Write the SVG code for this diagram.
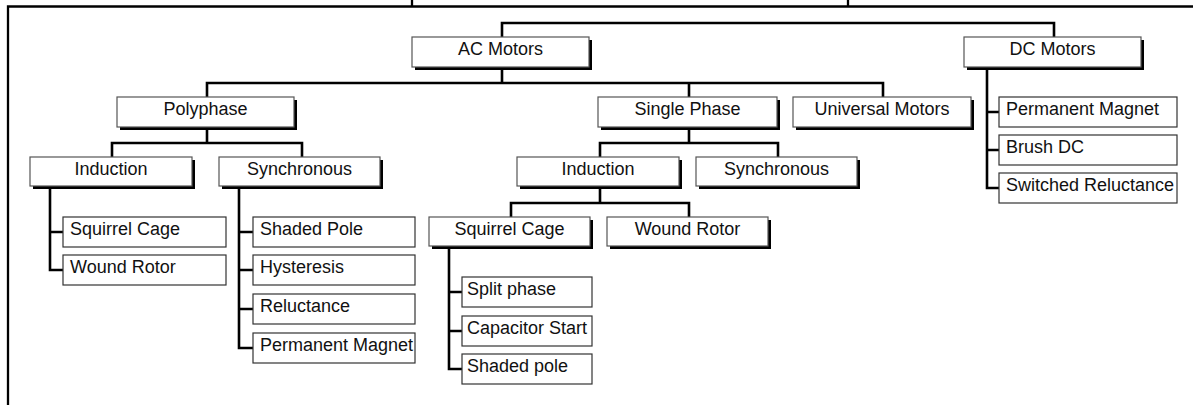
<svg xmlns="http://www.w3.org/2000/svg" width="1193" height="405" viewBox="0 0 1193 405">
<style>
  .frame { stroke:#000; stroke-width:2.3; fill:none; }
  .conn { stroke:#000; stroke-width:2.6; fill:none; stroke-linecap:square; }
  .shadow { fill:#000; }
  .box { fill:#fff; stroke:#555; stroke-width:1.2; }
  .sbox { fill:#fff; stroke:#333; stroke-width:1.2; }
  .t { font-family:"Liberation Sans", Arial, sans-serif; font-size:18px; fill:#111; }
  .c { text-anchor:middle; }
</style>
<rect width="1193" height="405" fill="#fff"/>
<g id="frame">
  <path class="frame" d="M8,405 V6.5 H1193"/>
  <path class="frame" d="M412,0 V6 M848,0 V6"/>
</g>
<g id="connectors">
  <path class="conn" d="M502,37 V23 H1054 V37"/>
  <path class="conn" d="M502,67 V83 M207,97 V83 H883 V97 M689,83 V97"/>
  <path class="conn" d="M207,127 V143 M112,157 V143 H302 V157"/>
  <path class="conn" d="M689,127 V143 M600,157 V143 H778 V157"/>
  <path class="conn" d="M600,186 V203 M511,217 V203 H689 V217"/>
  <path class="conn" d="M50,186 V270 H63 M50,232 H63"/>
  <path class="conn" d="M239,186 V348 H253 M239,232 H253 M239,270 H253 M239,309 H253"/>
  <path class="conn" d="M449,246 V369 H462 M449,292 H462 M449,331 H462"/>
  <path class="conn" d="M987,67 V188 H999 M987,112 H999 M987,150 H999"/>
</g>
<g id="ac-motors">
  <rect class="shadow" x="415" y="40" width="177" height="30"/>
  <rect class="box" x="412" y="37" width="177" height="30"/>
  <text class="t c" x="500.5" y="55">AC Motors</text>
</g>
<g id="dc-motors">
  <rect class="shadow" x="967" y="40" width="177" height="30"/>
  <rect class="box" x="964" y="37" width="177" height="30"/>
  <text class="t c" x="1052.5" y="55">DC Motors</text>
</g>
<g id="polyphase">
  <rect class="shadow" x="120" y="100" width="177" height="30"/>
  <rect class="box" x="117" y="97" width="177" height="30"/>
  <text class="t c" x="205.5" y="115">Polyphase</text>
</g>
<g id="single-phase">
  <rect class="shadow" x="601" y="100" width="179" height="30"/>
  <rect class="box" x="598" y="97" width="179" height="30"/>
  <text class="t c" x="687.5" y="115">Single Phase</text>
</g>
<g id="universal-motors">
  <rect class="shadow" x="796" y="100" width="178" height="30"/>
  <rect class="box" x="793" y="97" width="178" height="30"/>
  <text class="t c" x="882" y="115">Universal Motors</text>
</g>
<g id="poly-induction">
  <rect class="shadow" x="33" y="160" width="162" height="29"/>
  <rect class="box" x="30" y="157" width="162" height="29"/>
  <text class="t c" x="111" y="175">Induction</text>
</g>
<g id="poly-synchronous">
  <rect class="shadow" x="222" y="160" width="161" height="29"/>
  <rect class="box" x="219" y="157" width="161" height="29"/>
  <text class="t c" x="299.5" y="175">Synchronous</text>
</g>
<g id="single-induction">
  <rect class="shadow" x="520" y="160" width="162" height="29"/>
  <rect class="box" x="517" y="157" width="162" height="29"/>
  <text class="t c" x="598" y="175">Induction</text>
</g>
<g id="single-synchronous">
  <rect class="shadow" x="699" y="160" width="161" height="29"/>
  <rect class="box" x="696" y="157" width="161" height="29"/>
  <text class="t c" x="776.5" y="175">Synchronous</text>
</g>
<g id="single-squirrel-cage">
  <rect class="shadow" x="432" y="220" width="161" height="29"/>
  <rect class="box" x="429" y="217" width="161" height="29"/>
  <text class="t c" x="509.5" y="235">Squirrel Cage</text>
</g>
<g id="single-wound-rotor">
  <rect class="shadow" x="610" y="220" width="161" height="29"/>
  <rect class="box" x="607" y="217" width="161" height="29"/>
  <text class="t c" x="687.5" y="235">Wound Rotor</text>
</g>
<g id="poly-squirrel-cage">
  <rect class="sbox" x="63" y="217" width="163" height="30"/>
  <text class="t" x="70" y="235">Squirrel Cage</text>
</g>
<g id="poly-wound-rotor">
  <rect class="sbox" x="63" y="255" width="163" height="30"/>
  <text class="t" x="70" y="273">Wound Rotor</text>
</g>
<g id="shaded-pole">
  <rect class="sbox" x="253" y="217" width="162" height="30"/>
  <text class="t" x="260" y="235">Shaded Pole</text>
</g>
<g id="hysteresis">
  <rect class="sbox" x="253" y="255" width="162" height="30"/>
  <text class="t" x="260" y="273">Hysteresis</text>
</g>
<g id="reluctance">
  <rect class="sbox" x="253" y="294" width="162" height="30"/>
  <text class="t" x="260" y="312">Reluctance</text>
</g>
<g id="sync-permanent-magnet">
  <rect class="sbox" x="253" y="333" width="162" height="30"/>
  <text class="t" x="260" y="351">Permanent Magnet</text>
</g>
<g id="split-phase">
  <rect class="sbox" x="462" y="277" width="130" height="30"/>
  <text class="t" x="467" y="295">Split phase</text>
</g>
<g id="capacitor-start">
  <rect class="sbox" x="462" y="316" width="130" height="30"/>
  <text class="t" x="467" y="334">Capacitor Start</text>
</g>
<g id="shaded-pole-single">
  <rect class="sbox" x="462" y="354" width="130" height="30"/>
  <text class="t" x="467" y="372">Shaded pole</text>
</g>
<g id="dc-permanent-magnet">
  <rect class="sbox" x="999" y="97" width="178" height="30"/>
  <text class="t" x="1006" y="115">Permanent Magnet</text>
</g>
<g id="brush-dc">
  <rect class="sbox" x="999" y="135" width="178" height="30"/>
  <text class="t" x="1006" y="153">Brush DC</text>
</g>
<g id="switched-reluctance">
  <rect class="sbox" x="999" y="173" width="178" height="30"/>
  <text class="t" x="1006" y="191">Switched Reluctance</text>
</g>
</svg>
